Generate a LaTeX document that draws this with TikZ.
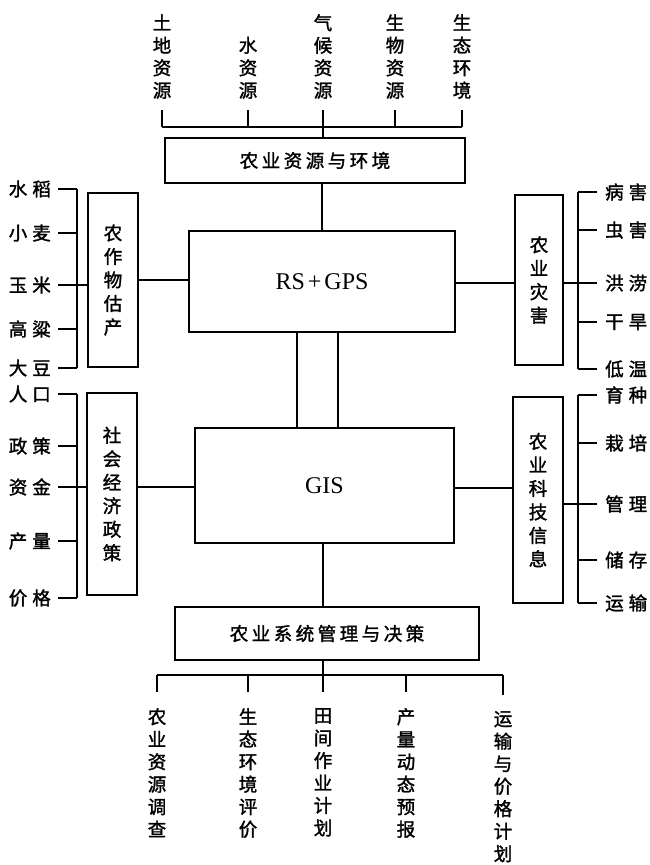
\documentclass[tikz,border=0pt]{standalone}
\usepackage{fontspec}
\setmainfont{Liberation Serif}
\newfontfamily\cjk[FakeBold=1.6]{Noto Sans CJK SC}
\newcommand\gp{\hspace{3.5pt}}
\newcommand\gq{\hspace{5pt}}
\begin{document}
\begin{tikzpicture}[x=1pt,y=-1pt,
  ln/.style={line width=1.7pt},
  box/.style={draw,line width=1.7pt,inner sep=0pt},
  hbox/.style={box,font=\cjk\fontsize{18.5}{22}\selectfont},
  vbox/.style={box,align=center,font=\cjk\fontsize{18.5}{23.5}\selectfont},
  lab/.style={inner sep=0pt,align=center,font=\cjk\fontsize{18.5}{22.5}\selectfont},
  side/.style={inner sep=0pt,font=\cjk\fontsize{18.5}{22}\selectfont},
  latin/.style={box,font=\fontsize{24}{28}\selectfont}]
\useasboundingbox (0,0) rectangle (649,865);

% central boxes
\node[hbox,minimum width=300pt,minimum height=45pt] (res) at (315,160.5) {农\gp 业\gp 资\gp 源\gp 与\gp 环\gp 境};
\node[latin,minimum width=266pt,minimum height=101pt] (rs) at (322,281.5) {RS\kern3pt+\kern3pt GPS};
\node[latin,minimum width=259pt,minimum height=115pt] (gis) at (324.5,485.5) {GIS};
\node[hbox,minimum width=304pt,minimum height=53pt] (mgmt) at (327,633.5) {农\gp 业\gp 系\gp 统\gp 管\gp 理\gp 与\gp 决\gp 策};

% side boxes
\node[vbox,minimum width=50pt,minimum height=174pt] (crop) at (113,280) {农\\作\\物\\估\\产};
\node[vbox,minimum width=50pt,minimum height=202pt] (soc) at (112,494) {社\\会\\经\\济\\政\\策};
\node[vbox,minimum width=48pt,minimum height=170pt] (dis) at (539,280) {农\\业\\灾\\害};
\node[vbox,minimum width=50pt,minimum height=206pt] (tech) at (538,500) {农\\业\\科\\技\\信\\息};

% top labels
\node[lab,anchor=south] (t1) at (162,99) {土\\地\\资\\源};
\node[lab,anchor=south] (t2) at (248,99) {水\\资\\源};
\node[lab,anchor=south] (t3) at (323,99) {气\\候\\资\\源};
\node[lab,anchor=south] (t4) at (395,99) {生\\物\\资\\源};
\node[lab,anchor=south] (t5) at (462,99) {生\\态\\环\\境};
\coordinate (tbar) at (0,127);
\foreach \n in {t1,t2,t3,t4,t5}{\draw[ln] (\n.south) ++(0,11) -- (\n.south |- tbar);}
\draw[ln] (t1.south |- tbar) -- (t5.south |- tbar);
\draw[ln] (t3.south |- tbar) -- (t3.south |- res.north);
\draw[ln] (res.south -| rs.north) -- (rs.north);

% left top labels
\node[side,anchor=east] (l1) at (51,189) {水\gq 稻};
\node[side,anchor=east] (l2) at (51,233) {小\gq 麦};
\node[side,anchor=east] (l3) at (51,285) {玉\gq 米};
\node[side,anchor=east] (l4) at (51,329) {高\gq 粱};
\node[side,anchor=east] (l5) at (51,368) {大\gq 豆};
\coordinate (lbar) at (77,0);
\foreach \n in {l1,l2,l3,l4,l5}{\draw[ln] (\n.east) ++(7,0) -- (\n.east -| lbar);}
\draw[ln] (l1.east -| lbar) -- (l5.east -| lbar);
\draw[ln] (l3.east -| lbar) -- (l3.east -| crop.west);
\draw[ln] (crop.east) -- (crop.east -| rs.west);

% left bottom labels
\node[side,anchor=east] (l6) at (51,394) {人\gq 口};
\node[side,anchor=east] (l7) at (51,446) {政\gq 策};
\node[side,anchor=east] (l8) at (51,487) {资\gq 金};
\node[side,anchor=east] (l9) at (51,541) {产\gq 量};
\node[side,anchor=east] (l10) at (51,598) {价\gq 格};
\foreach \n in {l6,l7,l8,l9,l10}{\draw[ln] (\n.east) ++(7,0) -- (\n.east -| lbar);}
\draw[ln] (l6.east -| lbar) -- (l10.east -| lbar);
\draw[ln] (l8.east -| lbar) -- (l8.east -| soc.west);
\draw[ln] (l8.east -| soc.east) -- (l8.east -| gis.west);

% right top labels
\node[side,anchor=west] (r1) at (605,192) {病\gq 害};
\node[side,anchor=west] (r2) at (605,230) {虫\gq 害};
\node[side,anchor=west] (r3) at (605,283) {洪\gq 涝};
\node[side,anchor=west] (r4) at (605,322) {干\gq 旱};
\node[side,anchor=west] (r5) at (605,369) {低\gq 温};
\coordinate (rbar) at (578,0);
\foreach \n in {r1,r2,r3,r4,r5}{\draw[ln] (\n.west) ++(-8,0) -- (\n.west -| rbar);}
\draw[ln] (r1.west -| rbar) -- (r5.west -| rbar);
\draw[ln] (r3.west -| rbar) -- (r3.west -| dis.east);
\draw[ln] (r3.west -| dis.west) -- (r3.west -| rs.east);

% right bottom labels
\node[side,anchor=west] (r6) at (605,395) {育\gq 种};
\node[side,anchor=west] (r7) at (605,443) {栽\gq 培};
\node[side,anchor=west] (r8) at (605,504) {管\gq 理};
\node[side,anchor=west] (r9) at (605,560) {储\gq 存};
\node[side,anchor=west] (r10) at (605,603) {运\gq 输};
\foreach \n in {r6,r7,r8,r9,r10}{\draw[ln] (\n.west) ++(-8,0) -- (\n.west -| rbar);}
\draw[ln] (r6.west -| rbar) -- (r10.west -| rbar);
\draw[ln] (r8.west -| rbar) -- (r8.west -| tech.east);
\draw[ln] (tech.west |- 0,488) -- (gis.east |- 0,488);

% RS - GIS double connector
\draw[ln] ([xshift=-25pt]rs.south) -- ([xshift=-25pt]rs.south |- gis.north);
\draw[ln] ([xshift=16pt]rs.south) -- ([xshift=16pt]rs.south |- gis.north);
\draw[ln] (gis.south -| t3.south) -- (mgmt.north -| t3.south);

% bottom labels
\node[lab,anchor=north] (b1) at (157,708) {农\\业\\资\\源\\调\\查};
\node[lab,anchor=north] (b2) at (248,708) {生\\态\\环\\境\\评\\价};
\node[lab,anchor=north] (b3) at (323,708) {田\\间\\作\\业\\计\\划};
\node[lab,anchor=north] (b4) at (406,708) {产\\量\\动\\态\\预\\报};
\node[lab,anchor=north] (b5) at (503,711) {运\\输\\与\\价\\格\\计\\划};
\coordinate (bbar) at (0,675);
\foreach \n in {b1,b2,b3,b4,b5}{\draw[ln] (\n.north) ++(0,-16) -- (\n.north |- bbar);}
\draw[ln] (b1.north |- bbar) -- (b5.north |- bbar);
\draw[ln] (b3.north |- mgmt.south) -- (b3.north |- bbar);
\end{tikzpicture}
\end{document}
